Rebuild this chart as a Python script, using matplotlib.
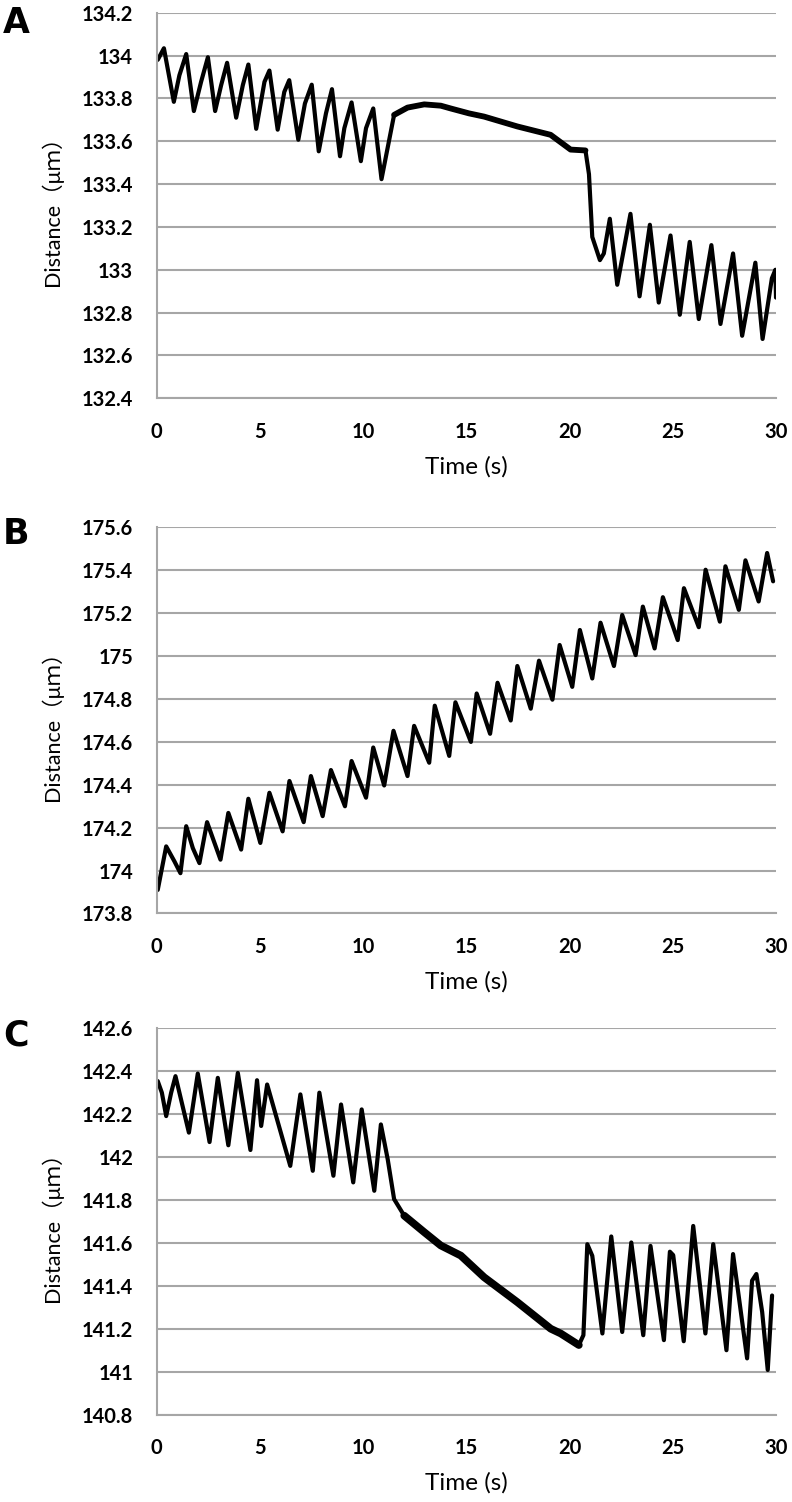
import matplotlib
matplotlib.use("Agg")
import matplotlib.pyplot as plt
from matplotlib.ticker import FixedLocator

# ---- data (time in s, distance in um) ----
time_a = [0.05, 0.35, 0.83, 1.10, 1.43, 1.80, 2.15, 2.48, 2.83, 3.12, 3.41, 3.85, 4.17,
          4.44, 4.82, 5.22, 5.46, 5.86, 6.18, 6.42, 6.86, 7.18, 7.51, 7.85, 8.20, 8.49,
          8.88, 9.09, 9.44, 9.89, 10.14, 10.49, 10.89, 11.50, 12.15, 12.96, 13.76, 14.24,
          15.13, 15.86, 17.47, 19.08, 20.05, 20.77, 20.94, 21.10, 21.47, 21.66, 21.95,
          22.31, 22.95, 23.39, 23.89, 24.32, 24.89, 25.34, 25.82, 26.26, 26.87, 27.31,
          27.92, 28.36, 29.00, 29.35, 29.80, 29.97, 30.0]
dist_a = [133.98, 134.034, 133.784, 133.908, 134.007, 133.741, 133.877, 133.992, 133.741,
          133.861, 133.966, 133.71, 133.861, 133.958, 133.658, 133.877, 133.93, 133.654,
          133.83, 133.885, 133.607, 133.776, 133.864, 133.553, 133.73, 133.843, 133.53,
          133.661, 133.781, 133.507, 133.661, 133.753, 133.423, 133.723, 133.757, 133.772,
          133.766, 133.753, 133.73, 133.715, 133.669, 133.63, 133.561, 133.557, 133.446,
          133.153, 133.045, 133.076, 133.238, 132.93, 133.261, 132.876, 133.21, 132.847,
          133.16, 132.79, 133.13, 132.77, 133.115, 132.747, 133.076, 132.692, 133.033,
          132.677, 132.96, 133.0, 132.87]

time_b = [0.05, 0.46, 0.86, 1.15, 1.43, 1.75, 2.07, 2.44, 3.09, 3.47, 4.09, 4.44, 5.02,
          5.46, 6.10, 6.43, 7.12, 7.47, 8.04, 8.44, 9.12, 9.44, 10.14, 10.49, 11.02, 11.47,
          12.15, 12.47, 13.20, 13.47, 14.17, 14.47, 15.22, 15.50, 16.15, 16.51, 17.15,
          17.47, 18.12, 18.52, 19.17, 19.52, 20.13, 20.50, 21.10, 21.50, 22.15, 22.55,
          23.20, 23.55, 24.12, 24.52, 25.24, 25.54, 26.26, 26.59, 27.28, 27.55, 28.20,
          28.52, 29.16, 29.57, 29.86]
dist_b = [173.91, 174.113, 174.043, 173.988, 174.207, 174.105, 174.035, 174.226, 174.051,
          174.269, 174.098, 174.335, 174.129, 174.363, 174.183, 174.418, 174.226, 174.441,
          174.254, 174.469, 174.30, 174.511, 174.34, 174.574, 174.397, 174.652, 174.441,
          174.675, 174.503, 174.769, 174.535, 174.785, 174.60, 174.826, 174.638, 174.876,
          174.70, 174.954, 174.755, 174.979, 174.797, 175.052, 174.857, 175.122, 174.896,
          175.156, 174.954, 175.192, 175.005, 175.231, 175.036, 175.275, 175.075, 175.317,
          175.135, 175.403, 175.161, 175.419, 175.216, 175.447, 175.255, 175.481, 175.349]

time_c = [0.05, 0.25, 0.46, 0.70, 0.91, 1.56, 1.99, 2.56, 2.96, 3.47, 3.93, 4.54, 4.86,
          5.06, 5.35, 6.47, 6.96, 7.56, 7.88, 8.56, 8.93, 9.52, 9.93, 10.54, 10.86, 11.19,
          11.50, 11.99, 12.96, 13.76, 14.73, 15.86, 17.47, 19.09, 19.57, 20.45, 20.67,
          20.86, 21.10, 21.59, 22.02, 22.55, 22.99, 23.57, 23.92, 24.57, 24.86, 25.02,
          25.53, 25.99, 26.58, 26.96, 27.60, 27.92, 28.60, 28.84, 29.05, 29.33, 29.60, 29.81]
dist_c = [142.354, 142.30, 142.191, 142.30, 142.377, 142.114, 142.389, 142.07, 142.369,
          142.055, 142.392, 142.033, 142.358, 142.145, 142.338, 141.959, 142.292, 141.936,
          142.30, 141.913, 142.245, 141.882, 142.222, 141.843, 142.152, 141.99, 141.804,
          141.727, 141.65, 141.588, 141.541, 141.44, 141.324, 141.20, 141.178, 141.124,
          141.17, 141.594, 141.54, 141.178, 141.63, 141.185, 141.602, 141.17, 141.586,
          141.147, 141.559, 141.543, 141.142, 141.679, 141.178, 141.594, 141.10, 141.548,
          141.062, 141.424, 141.455, 141.278, 141.008, 141.355]

# stretches where the recorded trace is noisy (drawn as a thicker band)
noisy_a = (11.5, 20.8)
noisy_b = None
noisy_c = (11.9, 20.5)

x_ticks = [0, 5, 10, 15, 20, 25, 30]
y_ticks_a = [132.4, 132.6, 132.8, 133, 133.2, 133.4, 133.6, 133.8, 134, 134.2]
y_ticks_b = [173.8, 174, 174.2, 174.4, 174.6, 174.8, 175, 175.2, 175.4, 175.6]
y_ticks_c = [140.8, 141, 141.2, 141.4, 141.6, 141.8, 142, 142.2, 142.4, 142.6]
panel_letters = ["A", "B", "C"]

GRAY = "#a6a6a6"
W, H = 792, 1502


def fmt(v):
    s = f"{v:.1f}"
    return s[:-2] if s.endswith(".0") else s


def draw_panel(fig, rect, t, d, yticks, noisy, letter, letter_top, band_lw):
    ax = fig.add_axes(rect)
    ax.plot(t, d, color="black", lw=3.0, solid_joinstyle="round", solid_capstyle="round")
    if noisy:
        tt = [x for x in t if noisy[0] <= x <= noisy[1]]
        dd = [y for x, y in zip(t, d) if noisy[0] <= x <= noisy[1]]
        ax.plot(tt, dd, color="black", lw=band_lw, solid_joinstyle="round",
                solid_capstyle="round")
    ax.set_xlim(0, 30)
    ax.set_ylim(yticks[0], yticks[-1])
    ax.xaxis.set_major_locator(FixedLocator(x_ticks))
    ax.yaxis.set_major_locator(FixedLocator(yticks))
    ax.set_xticklabels([str(x) for x in x_ticks], fontfamily="Lato",
                       fontweight="bold", fontsize=14.5)
    ax.set_yticklabels([fmt(v) for v in yticks], fontfamily="Lato",
                       fontweight="bold", fontsize=14.5)
    ax.tick_params(axis="both", length=0, pad=17)
    ax.grid(axis="y", color=GRAY, lw=1.5)
    ax.set_axisbelow(True)
    for side in ("top", "right"):
        ax.spines[side].set_visible(False)
    for side in ("left", "bottom"):
        ax.spines[side].set_color(GRAY)
        ax.spines[side].set_linewidth(1.5)
    ax.set_xlabel("Time (s)", fontfamily="Lato", fontsize=17.5)
    ax.xaxis.set_label_coords(0.5, -0.15)
    ax.set_ylabel("Distance（μｍ）", fontfamily=["Lato", "Noto Sans CJK JP", "DejaVu Sans"],
                  fontsize=15.5)
    ax.yaxis.set_label_coords(-0.151, 0.5)
    fig.text(3 / W, 1 - letter_top / H, letter, fontfamily="DejaVu Sans",
             fontweight="bold", fontsize=25, va="top", ha="left")
    return ax


fig = plt.figure(figsize=(W / 100, H / 100), dpi=100)
left = 156.7 / W
width = (776 - 156.7) / W

panels = [
    (12.7, 398.3, time_a, dist_a, y_ticks_a, noisy_a, 6, 4.2),
    (527.5, 913.5, time_b, dist_b, y_ticks_b, noisy_b, 517, 3.0),
    (1028.3, 1414.6, time_c, dist_c, y_ticks_c, noisy_c, 1019, 5.5),
]
for (top, bottom, t, d, yt, nz, ltop, blw), letter in zip(panels, panel_letters):
    rect = [left, 1 - bottom / H, width, (bottom - top) / H]
    draw_panel(fig, rect, t, d, yt, nz, letter, ltop, blw)

fig.savefig("out.png", dpi=100)
